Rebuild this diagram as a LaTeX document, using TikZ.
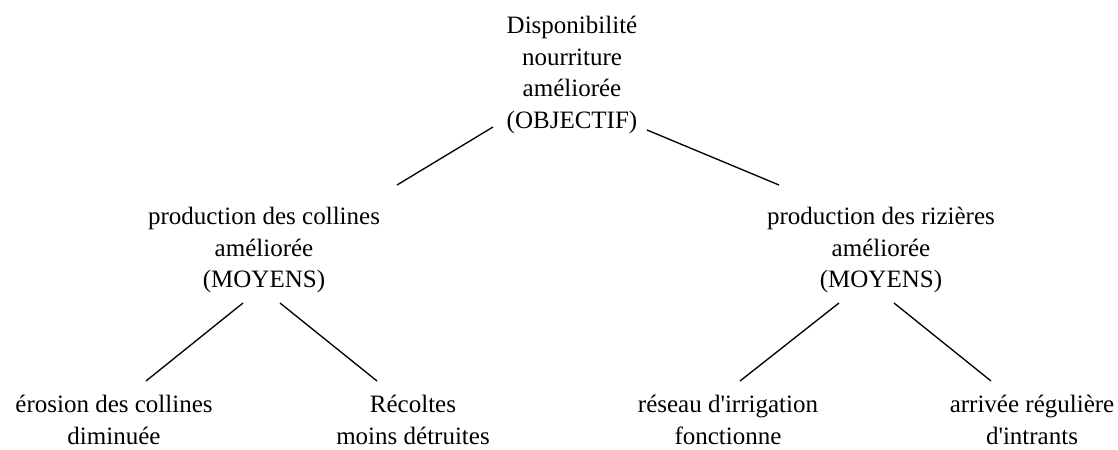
\documentclass[tikz,border=0pt]{standalone}
\usepackage{fontspec}
\setmainfont{Liberation Serif}
\begin{document}
\begin{tikzpicture}[x=0.75pt,y=-0.75pt,
  lbl/.style={align=center,inner sep=0pt,font=\fontsize{18.75}{23.7}\selectfont},
  link/.style={line width=1pt,black}]
\useasboundingbox (0,0) rectangle (1118,450);
\node[lbl] (top) at (572,75) {Disponibilité\\nourriture\\améliorée\\(OBJECTIF)};
\node[lbl] (ml) at (264,250) {production des collines\\améliorée\\(MOYENS)};
\node[lbl] (mr) at (881,250) {production des rizières\\améliorée\\(MOYENS)};
\node[lbl] (b1) at (114,420) {érosion des collines\\diminuée};
\node[lbl] (b2) at (413,420) {Récoltes\\moins détruites};
\node[lbl] (b3) at (728,420) {réseau d\textquotesingle irrigation\\fonctionne};
\node[lbl] (b4) at (1032,420) {arrivée régulière\\d\textquotesingle intrants};
\draw[link] ([shift={(-79,52)}]top.center) -- ([shift={(133,-65)}]ml.center);
\draw[link] ([shift={(75,55)}]top.center) -- ([shift={(-102,-65)}]mr.center);
\draw[link] ([shift={(-21,53)}]ml.center) -- ([shift={(32,-39)}]b1.center);
\draw[link] ([shift={(16,53)}]ml.center) -- ([shift={(-36,-39)}]b2.center);
\draw[link] ([shift={(-42,53)}]mr.center) -- ([shift={(12,-39)}]b3.center);
\draw[link] ([shift={(13,53)}]mr.center) -- ([shift={(-41,-39)}]b4.center);
\end{tikzpicture}
\end{document}
